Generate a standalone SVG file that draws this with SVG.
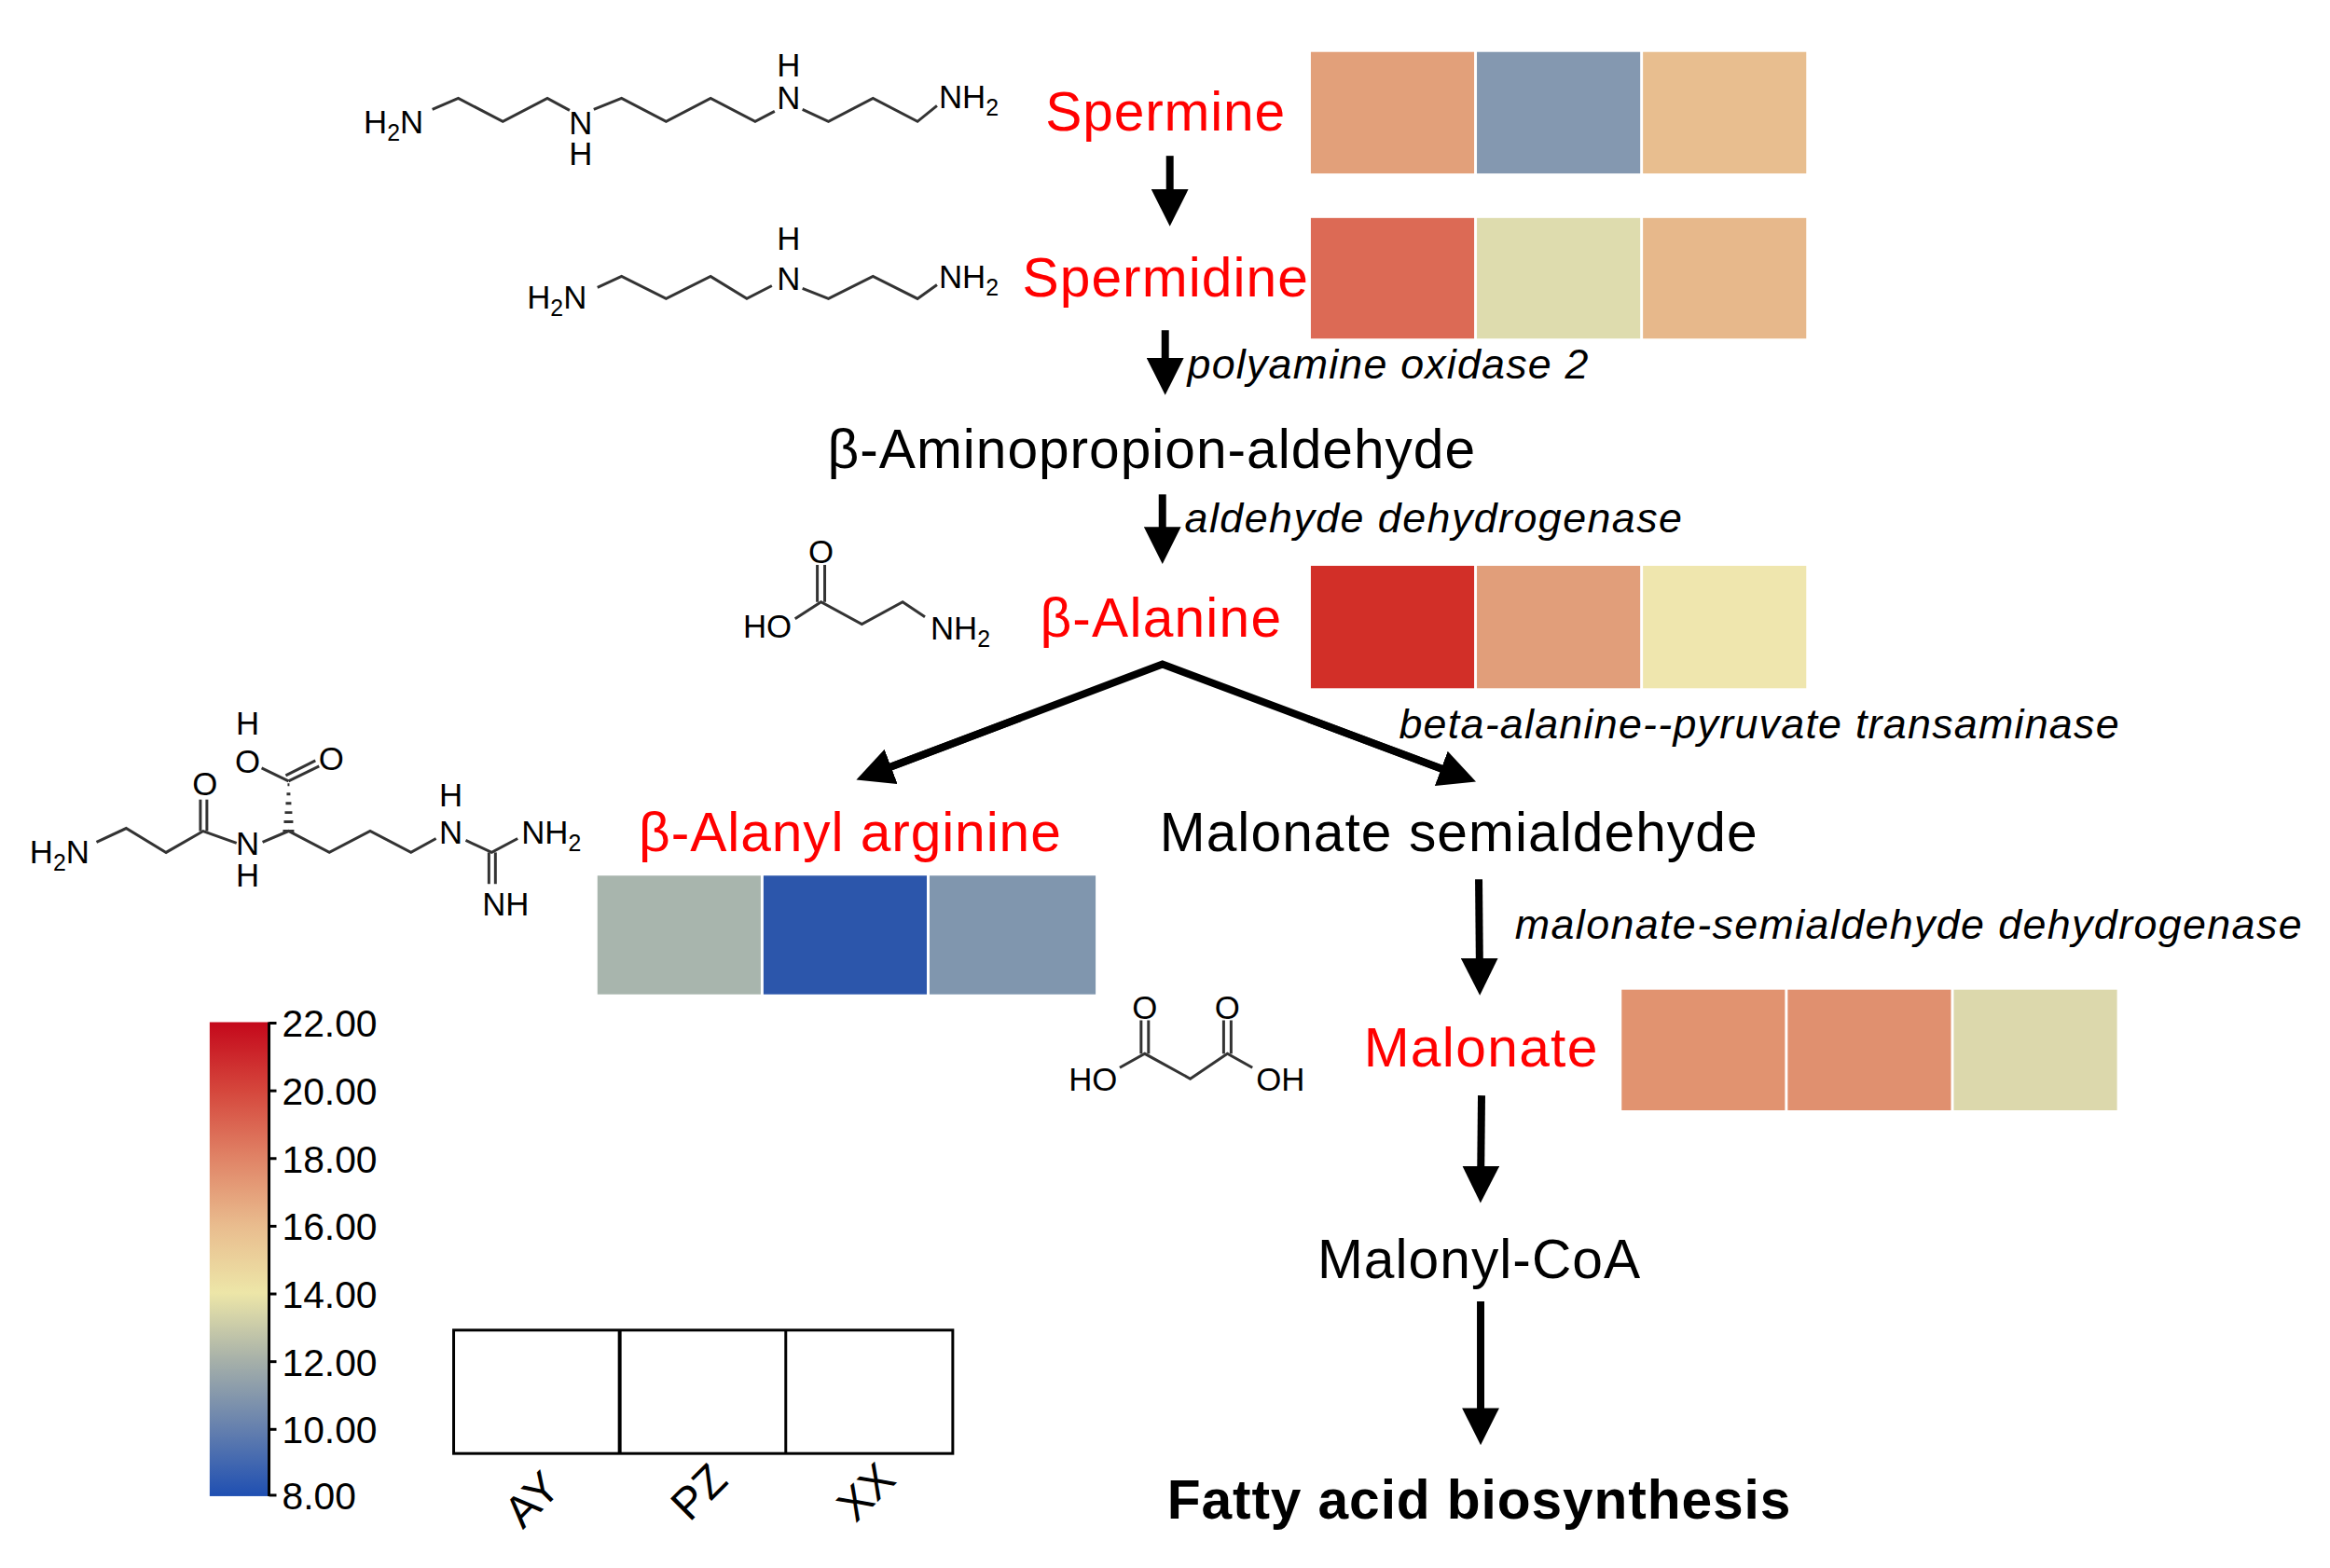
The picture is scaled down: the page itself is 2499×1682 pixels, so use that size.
<svg xmlns="http://www.w3.org/2000/svg" width="2499" height="1682" viewBox="0 0 2499 1682">
<style>
text{font-family:"Liberation Sans",Arial,sans-serif}
.red{fill:#FF0000;font-size:59px}
.blk{fill:#000;font-size:59px}
.enz{font-style:italic;font-size:45px;fill:#000}
.chem{font-size:35px;fill:#000}
.sub{font-size:25px}
.bond{fill:none;stroke:#333;stroke-width:3}
.arr{stroke:#000;stroke-width:8;fill:none;marker-end:url(#ah)}
.tick{font-size:41px;fill:#000}
.lab{font-size:48px;fill:#000}
</style>
<defs>
<marker id="ah" markerWidth="5" markerHeight="5" refX="3" refY="2.5" orient="auto" markerUnits="strokeWidth"><path d="M0,0 L5,2.5 L0,5 Z" fill="#000"/></marker>
<linearGradient id="cb" x1="0" y1="0" x2="0" y2="1">
<stop offset="0" stop-color="#C4081B"/><stop offset="0.143" stop-color="#D5463C"/><stop offset="0.286" stop-color="#E08366"/><stop offset="0.429" stop-color="#E9BC8E"/><stop offset="0.571" stop-color="#EDE6A8"/><stop offset="0.714" stop-color="#A6B0A9"/><stop offset="0.857" stop-color="#6580AE"/><stop offset="1" stop-color="#1F4FB2"/>
</linearGradient>
</defs>
<rect width="2499" height="1682" fill="#fff"/>
<g transform="scale(0.995)">
<g id="spermine">
<text x="392" y="144" class="chem">H<tspan class="sub" dy="8">2</tspan><tspan dy="-8">N</tspan></text>
<polyline class="bond" points="466,118 494,106 542,131 590,106 614,119"/>
<text x="626" y="145" class="chem" text-anchor="middle">N</text>
<text x="626" y="178" class="chem" text-anchor="middle">H</text>
<polyline class="bond" points="640,118 670,106 718,131 766,106 814,131 835,120"/>
<text x="850" y="118" class="chem" text-anchor="middle">N</text>
<text x="850" y="82" class="chem" text-anchor="middle">H</text>
<polyline class="bond" points="865,118 893,131 941,106 989,131 1010,114"/>
<text x="1012" y="117" class="chem">NH<tspan class="sub" dy="8">2</tspan></text>
<text x="1127" y="141" class="red" textLength="258">Spermine</text>
<rect x="1413" y="56" width="176" height="131" fill="#E2A07A"/>
<rect x="1592" y="56" width="176" height="131" fill="#8498B0"/>
<rect x="1771" y="56" width="176" height="131" fill="#E8BE8F"/>
</g>

<g id="spermidine">
<text x="568" y="333" class="chem">H<tspan class="sub" dy="8">2</tspan><tspan dy="-8">N</tspan></text>
<polyline class="bond" points="644,310 670,298 718,322 766,298 805,322 832,308"/>
<text x="850" y="313" class="chem" text-anchor="middle">N</text>
<text x="850" y="269" class="chem" text-anchor="middle">H</text>
<polyline class="bond" points="865,311 893,322 941,298 989,322 1010,307"/>
<text x="1012" y="311" class="chem">NH<tspan class="sub" dy="8">2</tspan></text>
<text x="1102" y="320" class="red" textLength="308">Spermidine</text>
<rect x="1413" y="235" width="176" height="130" fill="#DC6A55"/>
<rect x="1592" y="235" width="176" height="130" fill="#DEDCAE"/>
<rect x="1771" y="235" width="176" height="130" fill="#E7B88B"/>
</g>

<g id="aminopropionaldehyde">
<text x="1241" y="505" class="blk" text-anchor="middle" textLength="698">β-Aminopropion-aldehyde</text>
</g>

<g id="alanine">
<text x="885" y="607" class="chem" text-anchor="middle">O</text>
<line class="bond" x1="881" y1="609" x2="881" y2="649"/>
<line class="bond" x1="889" y1="609" x2="889" y2="649"/>
<text x="801" y="687" class="chem">HO</text>
<polyline class="bond" points="857,667 885,649 929,673 973,649 997,665"/>
<text x="1003" y="689" class="chem">NH<tspan class="sub" dy="8">2</tspan></text>
<text x="1121" y="686" class="red" textLength="260">β-Alanine</text>
<rect x="1413" y="610" width="176" height="132" fill="#D22F28"/>
<rect x="1592" y="610" width="176" height="132" fill="#E19E7A"/>
<rect x="1771" y="610" width="176" height="132" fill="#EFE6AE"/>
</g>

<g id="alanylarginine">
<text x="32" y="931" class="chem">H<tspan class="sub" dy="8">2</tspan><tspan dy="-8">N</tspan></text>
<polyline class="bond" points="104,908 136,893 179,919 219,896 255,909"/>
<line class="bond" x1="216" y1="896" x2="216" y2="862"/>
<line class="bond" x1="223" y1="896" x2="223" y2="862"/>
<text x="221" y="857" class="chem" text-anchor="middle">O</text>
<text x="267" y="922" class="chem" text-anchor="middle">N</text>
<text x="267" y="956" class="chem" text-anchor="middle">H</text>
<polyline class="bond" points="283,908 311,896 355,919 399,896 443,919 470,904"/>
<path d="M305,896 L317,896 M306,886 L316,886 M307,876 L315,876 M308,866 L314,866 M309,856 L313,856 M310,846 L312,846" stroke="#333" stroke-width="3"/>
<line class="bond" x1="311" y1="842" x2="282" y2="828"/>
<line class="bond" x1="311" y1="842" x2="344" y2="826"/>
<line class="bond" x1="308" y1="836" x2="340" y2="820"/>
<text x="267" y="833" class="chem" text-anchor="middle">O</text>
<text x="267" y="792" class="chem" text-anchor="middle">H</text>
<text x="357" y="830" class="chem" text-anchor="middle">O</text>
<text x="486" y="910" class="chem" text-anchor="middle">N</text>
<text x="486" y="869" class="chem" text-anchor="middle">H</text>
<polyline class="bond" points="502,906 530,919 558,904"/>
<line class="bond" x1="527" y1="919" x2="527" y2="953"/>
<line class="bond" x1="534" y1="919" x2="534" y2="953"/>
<text x="562" y="910" class="chem">NH<tspan class="sub" dy="8">2</tspan></text>
<text x="545" y="987" class="chem" text-anchor="middle">NH</text>
<text x="916" y="918" class="red" text-anchor="middle" textLength="455">β-Alanyl arginine</text>
<rect x="644" y="944" width="176" height="128" fill="#A8B5AD"/>
<rect x="823" y="944" width="176" height="128" fill="#2C56AB"/>
<rect x="1002" y="944" width="179" height="128" fill="#8096AE"/>
</g>

<g id="malonatesemialdehyde">
<text x="1572" y="918" class="blk" text-anchor="middle" textLength="644">Malonate semialdehyde</text>
</g>

<g id="malonate">
<text x="1234" y="1098" class="chem" text-anchor="middle">O</text>
<text x="1323" y="1098" class="chem" text-anchor="middle">O</text>
<line class="bond" x1="1230" y1="1100" x2="1230" y2="1136"/>
<line class="bond" x1="1238" y1="1100" x2="1238" y2="1136"/>
<line class="bond" x1="1319" y1="1100" x2="1319" y2="1136"/>
<line class="bond" x1="1327" y1="1100" x2="1327" y2="1136"/>
<text x="1152" y="1176" class="chem">HO</text>
<polyline class="bond" points="1207,1151 1234,1136 1283,1163 1323,1136 1350,1151"/>
<text x="1354" y="1176" class="chem">OH</text>
<text x="1596" y="1150" class="red" text-anchor="middle" textLength="252">Malonate</text>
<rect x="1748" y="1067" width="176" height="130" fill="#E19370"/>
<rect x="1927" y="1067" width="176" height="130" fill="#E0906F"/>
<rect x="2106" y="1067" width="176" height="130" fill="#DCD8AC"/>
</g>

<g id="malonylcoa">
<text x="1594" y="1378" class="blk" text-anchor="middle" textLength="348">Malonyl-CoA</text>
</g>

<g id="fattyacid">
<text x="1594" y="1637" class="blk" text-anchor="middle" font-weight="bold" textLength="672">Fatty acid biosynthesis</text>
</g>

<g id="connectors">
<line class="arr" x1="1261" y1="168" x2="1261" y2="228"/>
<line class="arr" x1="1256" y1="356" x2="1256" y2="410"/>
<text x="1280" y="408" class="enz" textLength="432">polyamine oxidase 2</text>
<line class="arr" x1="1253" y1="533" x2="1253" y2="592"/>
<text x="1277" y="574" class="enz" textLength="536">aldehyde dehydrogenase</text>
<polyline points="936,836 1253,716 1578,838" fill="none" stroke="#000" stroke-width="8"/>
<line class="arr" x1="1100" y1="774" x2="938" y2="835"/>
<line class="arr" x1="1410" y1="775" x2="1576" y2="837"/>
<text x="1508" y="796" class="enz" textLength="776">beta-alanine--pyruvate transaminase</text>
<line class="arr" x1="1594" y1="948" x2="1595" y2="1057"/>
<text x="1633" y="1012" class="enz" textLength="848">malonate-semialdehyde dehydrogenase</text>
<line class="arr" x1="1597" y1="1181" x2="1596" y2="1281"/>
<line class="arr" x1="1596" y1="1403" x2="1596" y2="1542"/>
</g>

<g id="legend">
<rect x="226" y="1102" width="64" height="511" fill="url(#cb)"/>
<line x1="290" y1="1102" x2="290" y2="1613" stroke="#000" stroke-width="3"/>
<g stroke="#000" stroke-width="3">
<line x1="290" y1="1103" x2="298" y2="1103"/><line x1="290" y1="1176" x2="298" y2="1176"/><line x1="290" y1="1249" x2="298" y2="1249"/><line x1="290" y1="1322" x2="298" y2="1322"/><line x1="290" y1="1395" x2="298" y2="1395"/><line x1="290" y1="1468" x2="298" y2="1468"/><line x1="290" y1="1541" x2="298" y2="1541"/><line x1="290" y1="1612" x2="298" y2="1612"/>
</g>
<text x="304" y="1118" class="tick">22.00</text>
<text x="304" y="1191" class="tick">20.00</text>
<text x="304" y="1264" class="tick">18.00</text>
<text x="304" y="1337" class="tick">16.00</text>
<text x="304" y="1410" class="tick">14.00</text>
<text x="304" y="1483" class="tick">12.00</text>
<text x="304" y="1556" class="tick">10.00</text>
<text x="304" y="1627" class="tick">8.00</text>
<rect x="489" y="1434" width="538" height="133" fill="#fff" stroke="#000" stroke-width="3"/>
<line x1="668" y1="1434" x2="668" y2="1567" stroke="#000" stroke-width="4"/>
<line x1="847" y1="1434" x2="847" y2="1567" stroke="#000" stroke-width="3"/>
<text transform="translate(585,1628) rotate(-45)" class="lab" text-anchor="middle">AY</text>
<text transform="translate(765,1620) rotate(-45)" class="lab" text-anchor="middle">PZ</text>
<text transform="translate(945,1620) rotate(-45)" class="lab" text-anchor="middle">XX</text>
</g>
</g>
</svg>
